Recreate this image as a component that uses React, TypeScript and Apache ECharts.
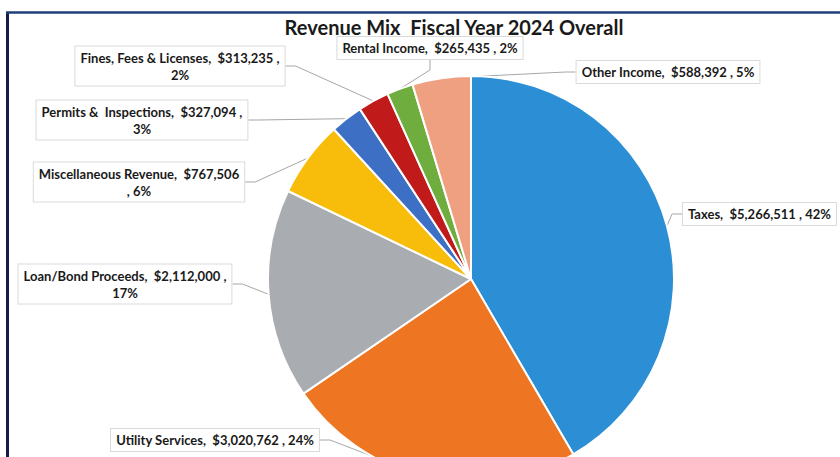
import React, { useEffect, useRef } from "react";
import * as echarts from "echarts";

const categories = [
  "Taxes",
  "Utility Services",
  "Loan/Bond Proceeds",
  "Miscellaneous Revenue",
  "Permits &  Inspections",
  "Fines, Fees & Licenses",
  "Rental Income",
  "Other Income",
];
const revenueValues = [5266511, 3020762, 2112000, 767506, 327094, 313235, 265435, 588392];
const sliceColors = ["#2C8FD6", "#EE7622", "#A9ACB0", "#F8BC0A", "#3D6FC4", "#C01A1A", "#6FAE3E", "#EFA080"];
// 0 = one line, 1 = break before percent, 2 = break before ", percent"
const labelBreaks = [0, 0, 1, 2, 1, 1, 0, 0];
const labelPositions: [number, number, string][] = [
  [683, 214, "left"],
  [215, 440, "center"],
  [125, 284, "center"],
  [139, 182, "center"],
  [142, 120, "center"],
  [180, 66, "center"],
  [430, 48, "center"],
  [668, 72, "center"],
];

export default function App() {
  const ref = useRef<HTMLDivElement>(null);
  useEffect(() => {
    if (!ref.current) return;
    const chart = echarts.init(ref.current, null, { renderer: "svg" });
    const fmt = (v: number) => "$" + v.toLocaleString("en-US");
    chart.setOption({
      animation: false,
      backgroundColor: "#ffffff",
      title: {
        text: "Revenue Mix  Fiscal Year 2024 Overall",
        left: 449,
        textAlign: "center",
        top: 12,
        textStyle: { fontFamily: "Lato", fontWeight: "bold", fontSize: 20, color: "#1a1a1a" },
      },
      graphic: [
        { type: "line", shape: { x1: 7.5, y1: 12, x2: 7.5, y2: 457 }, style: { stroke: "#161B4C", lineWidth: 3 } },
        { type: "line", shape: { x1: 6, y1: 12.5, x2: 840, y2: 12.5 }, style: { stroke: "#1F3F78", lineWidth: 2.5 } },
      ],
      series: [
        {
          type: "pie",
          center: [471, 279],
          radius: 203,
          startAngle: 90,
          clockwise: true,
          avoidLabelOverlap: false,
          itemStyle: { borderColor: "#ffffff", borderWidth: 2 },
          data: categories.map((name, i) => ({
            name,
            value: revenueValues[i],
            itemStyle: { color: sliceColors[i] },
          })),
          label: {
            show: true,
            position: "outside",
            fontFamily: "Lato",
            fontWeight: "bold",
            fontSize: 13,
            color: "#1a1a1a",
            lineHeight: 17,
            align: "center",
            backgroundColor: "#ffffff",
            borderColor: "#DADADA",
            borderWidth: 1,
            padding: [3, 5, 2, 5],
            formatter: (p: any) => {
              const pct = Math.round(p.percent) + "%";
              const b = labelBreaks[p.dataIndex];
              if (b === 1) return `${p.name},  ${fmt(p.value)} ,\n${pct}`;
              if (b === 2) return `${p.name},  ${fmt(p.value)}\n, ${pct}`;
              return `${p.name},  ${fmt(p.value)} , ${pct}`;
            },
          },
          labelLine: { show: true, length: 10, length2: 10, lineStyle: { color: "#A6A6A6", width: 1 } },
          labelLayout: (params: any) => {
            const pos = labelPositions[params.dataIndex];
            return { x: pos[0], y: pos[1], align: pos[2], verticalAlign: "middle" };
          },
        },
      ],
    });
    return () => chart.dispose();
  }, []);
  return (
    <div
      ref={ref}
      style={{ position: "fixed", left: 0, top: 0, width: 840, height: 457 }}
    />
  );
}
